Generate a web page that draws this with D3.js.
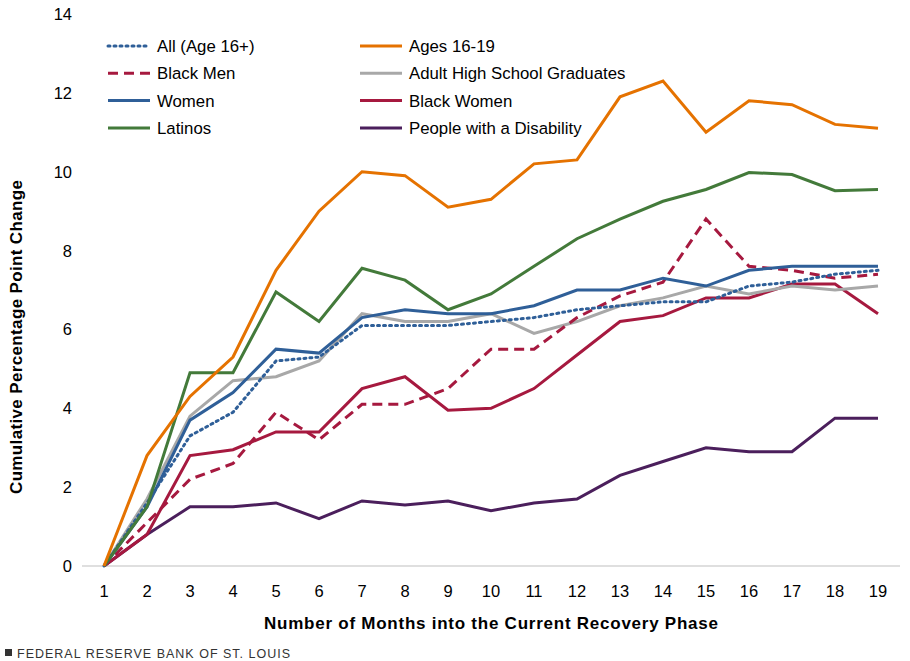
<!DOCTYPE html>
<html><head><meta charset="utf-8">
<script src="https://cdn.jsdelivr.net/npm/d3@7"></script>
<style>body{margin:0;background:#fff;font-family:"Liberation Sans",Arial,sans-serif}</style>
</head><body><svg id="c" width="910" height="661"></svg>
<script>
const months = d3.range(1, 20);
const yTicks = [0, 2, 4, 6, 8, 10, 12, 14];
const seriesNames = ["All (Age 16+)", "Ages 16-19", "Black Men", "Adult High School Graduates", "Women", "Black Women", "Latinos", "People with a Disability"];
const allAges = [0,1.6,3.3,3.9,5.2,5.3,6.1,6.1,6.1,6.2,6.3,6.5,6.6,6.7,6.7,7.1,7.2,7.4,7.5];
const ages1619 = [0,2.8,4.3,5.3,7.5,9.0,10.0,9.9,9.1,9.3,10.2,10.3,11.9,12.3,11.0,11.8,11.7,11.2,11.1];
const blackMen = [0,1.1,2.2,2.6,3.9,3.2,4.1,4.1,4.5,5.5,5.5,6.3,6.85,7.2,8.8,7.6,7.5,7.3,7.4];
const adultHS = [0,1.7,3.8,4.7,4.8,5.2,6.4,6.2,6.2,6.4,5.9,6.2,6.6,6.8,7.1,6.9,7.1,7.0,7.1];
const women = [0,1.5,3.7,4.4,5.5,5.4,6.3,6.5,6.4,6.4,6.6,7.0,7.0,7.3,7.1,7.5,7.6,7.6,7.6];
const blackWomen = [0,0.8,2.8,2.95,3.4,3.4,4.5,4.8,3.95,4.0,4.5,5.35,6.2,6.35,6.8,6.8,7.15,7.15,6.4];
const latinos = [0,1.5,4.9,4.9,6.95,6.2,7.55,7.25,6.5,6.9,7.6,8.3,8.8,9.25,9.55,9.98,9.93,9.52,9.55];
const disability = [0,0.8,1.5,1.5,1.6,1.2,1.65,1.55,1.65,1.4,1.6,1.7,2.3,2.65,3.0,2.9,2.9,3.75,3.75];

const values = [allAges, ages1619, blackMen, adultHS, women, blackWomen, latinos, disability];
const colors = ["#2f5f98", "#e57200", "#a6193f", "#a8a8a8", "#2f5f98", "#a6193f", "#437a3a", "#4b1f5c"];
const dashes = ["2,4", null, "10,6", null, null, null, null, null];
const caps = ["round", "butt", "butt", "butt", "butt", "butt", "butt", "butt"];

const svg = d3.select("#c");
const x = d3.scalePoint().domain(months).range([82.5, 899.5]).padding(0.5);
const y = d3.scaleLinear().domain([0, 14]).range([566, 14]);

// axes
svg.append("line").attr("x1", 82).attr("x2", 900).attr("y1", y(0)).attr("y2", y(0))
  .attr("stroke", "#bfbfbf").attr("stroke-width", 1);
svg.append("g").selectAll("text").data(yTicks).join("text")
  .attr("x", 72).attr("y", d => y(d) + 6).attr("text-anchor", "end")
  .attr("font-size", 16.5).attr("fill", "#000").text(d => d);
svg.append("g").selectAll("text").data(months).join("text")
  .attr("x", d => x(d)).attr("y", 597).attr("text-anchor", "middle")
  .attr("font-size", 16.5).text(d => d);

svg.append("text").attr("x", 491).attr("y", 629).attr("text-anchor", "middle")
  .attr("font-size", 17).attr("font-weight", "bold").attr("textLength", 454).text("Number of Months into the Current Recovery Phase");
svg.append("text").attr("transform", "translate(22,337) rotate(-90)").attr("text-anchor", "middle")
  .attr("font-size", 17).attr("font-weight", "bold").attr("textLength", 314).text("Cumulative Percentage Point Change");

// lines
const line = d3.line().x((d, i) => x(months[i])).y(d => y(d));
const order = [7, 5, 3, 2, 4, 0, 6, 1];
order.forEach(k => {
  svg.append("path").datum(values[k]).attr("d", line).attr("fill", "none")
    .attr("stroke", colors[k]).attr("stroke-width", 3)
    .attr("stroke-dasharray", dashes[k]).attr("stroke-linecap", caps[k]);
});

// legend
seriesNames.forEach((n, k) => {
  const col = k % 2, row = Math.floor(k / 2);
  const lx = col ? 360 : 108, ly = 46 + row * 27.3;
  svg.append("line").attr("x1", lx).attr("x2", lx + 42).attr("y1", ly).attr("y2", ly)
    .attr("stroke", colors[k]).attr("stroke-width", 3)
    .attr("stroke-dasharray", dashes[k]).attr("stroke-linecap", caps[k]);
  svg.append("text").attr("x", lx + 49).attr("y", ly + 6).attr("font-size", 16.8).text(n);
});

// footer
svg.append("rect").attr("x", 5).attr("y", 649).attr("width", 7).attr("height", 7).attr("fill", "#333");
svg.append("text").attr("x", 17).attr("y", 658).attr("font-size", 12.5).attr("fill", "#333")
  .attr("letter-spacing", 1).text("FEDERAL RESERVE BANK OF ST. LOUIS");
</script></body></html>
